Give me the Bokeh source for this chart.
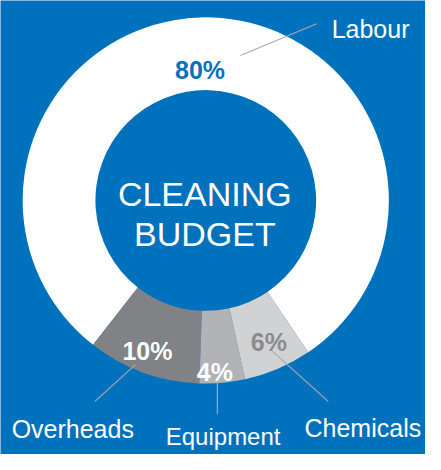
from bokeh.plotting import figure
from bokeh.models import Range1d, ColumnDataSource
from bokeh.core.properties import value
from bokeh.embed import file_html
from bokeh.resources import INLINE
import numpy as np

# ---- data ----
categories = ["Labour", "Overheads", "Equipment", "Chemicals"]
shares = [80, 10, 4, 6]
pct_labels = ["80%", "10%", "4%", "6%"]
slice_colors = ["#ffffff", "#808285", "#b1b3b6", "#d1d2d4"]
pct_colors = ["#0a70bb", "#ffffff", "#ffffff", "#8a8b8e"]
center_lines = ["CLEANING", "BUDGET"]

# ---- layout (reference-pixel coordinates, y measured from top) ----
BLUE = "#0071bc"
W, H = 441, 470
M = 8
FONT = value("Liberation Sans")

def Y(sy):
    return H - sy

cx, cy = 213, 207
r_in, r_out = 114.5, 190
start_deg = -56

cum = np.cumsum([0] + shares)
starts = np.radians(start_deg + cum[:-1] * 3.6)
ends = np.radians(start_deg + cum[1:] * 3.6)

p = figure(width=W - 2 * M, height=H - 2 * M,
           x_range=Range1d(0, W), y_range=Range1d(0, H),
           output_backend="svg", toolbar_location=None, min_border=0,
           background_fill_color=BLUE, border_fill_color=BLUE,
           outline_line_color=None)
p.axis.visible = False
p.grid.visible = False

src = ColumnDataSource(dict(cat=categories, start=starts, end=ends, color=slice_colors))
p.annular_wedge(x=cx, y=Y(cy), inner_radius=r_in, outer_radius=r_out,
                start_angle="start", end_angle="end", direction="anticlock",
                fill_color="color", line_color=None, source=src)

# leader lines (label anchor positions)
lead_x0 = [249, 140, 225, 282]
lead_y0 = [57, 377, 390, 363]
lead_x1 = [328, 98, 225, 340]
lead_y1 = [24, 415, 428, 415]
p.segment(x0=lead_x0, y0=[Y(v) for v in lead_y0], x1=lead_x1, y1=[Y(v) for v in lead_y1],
          line_color="#a7a9ac", line_width=1.2)

# percentage labels
pct_x = [207, 152.5, 222.5, 278.5]
pct_y = [72, 363, 385, 354]
p.text(x=pct_x, y=[Y(v) for v in pct_y], text=pct_labels, text_color=pct_colors,
       text_font=FONT, text_font_size="25px", text_font_style="bold",
       text_align="center", text_baseline="alphabetic")

# category names
name_x = [384, 75, 231, 376]
name_y = [30, 444, 451, 443]
name_size = ["25px", "25px", "24px", "25px"]
p.text(x=name_x, y=[Y(v) for v in name_y], text=categories, text_color="#ffffff",
       text_font=FONT, text_font_size=name_size,
       text_align="center", text_baseline="alphabetic")

# centre title
p.text(x=[212, 212], y=[Y(200), Y(242)], text=center_lines, text_color="#ffffff",
       text_font=FONT, text_font_size="34px",
       text_align="center", text_baseline="alphabetic")

open("out.html", "w").write(file_html(p, INLINE))
